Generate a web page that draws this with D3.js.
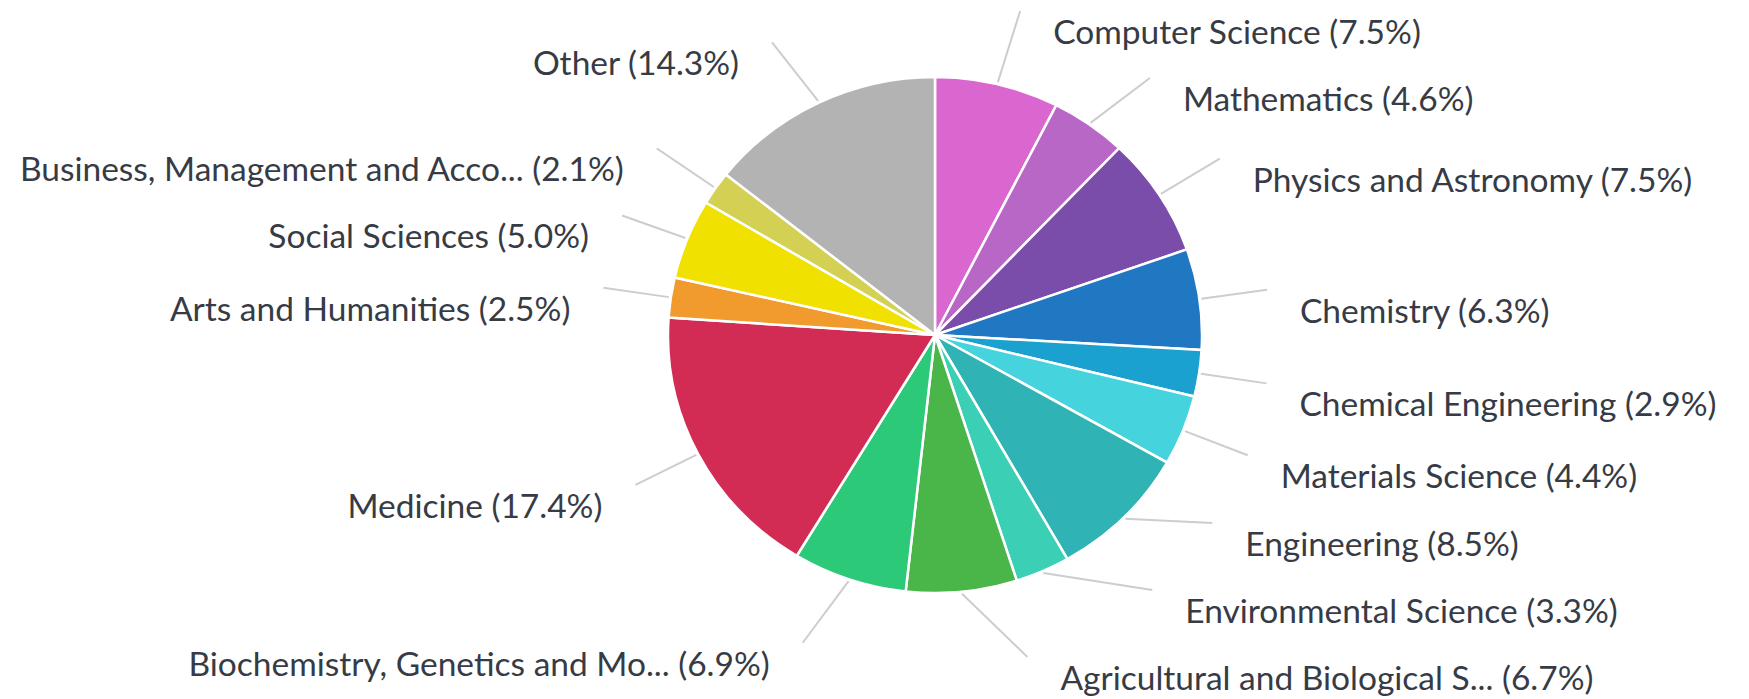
<!DOCTYPE html>
<html>
<head>
<meta charset="utf-8">
<script src="https://cdn.jsdelivr.net/npm/d3@7"></script>
<style>
  html, body { margin: 0; padding: 0; background: #fff; }
  .label { font-family: Lato, "Open Sans", sans-serif; font-size: 33.5px; fill: #363b45; }
</style>
</head>
<body>
<div id="chart"></div>
<script>
// subject areas, clockwise from 12 o'clock
const categories = [
  "Computer Science", "Mathematics", "Physics and Astronomy", "Chemistry",
  "Chemical Engineering", "Materials Science", "Engineering", "Environmental Science",
  "Agricultural and Biological S...", "Biochemistry, Genetics and Mo...", "Medicine",
  "Arts and Humanities", "Social Sciences", "Business, Management and Acco...", "Other"
];
const shares = [7.5, 4.6, 7.5, 6.3, 2.9, 4.4, 8.5, 3.3, 6.7, 6.9, 17.4, 2.5, 5.0, 2.1, 14.3];
const sliceColors = [
  "#da67d0", "#b867c6", "#7a4dab", "#1f78c1", "#1aa1cf", "#45d3dd", "#2fb3b5",
  "#3bcfb5", "#4ab549", "#2cc978", "#d22c55", "#f19a2e", "#f0e100", "#d3d053", "#b3b3b3"
];

var svgWidth = 1749;
var svgHeight = 699;

let cx = 935, cy = 335;
let rx = 267, ry = 258;        // pie is a little wider than tall in the picture
let targetRadius = 325;        // where a label would like to sit
let labelRadius = 335;         // circle the connector ends sit on
let labelGap = 67;             // min vertical distance between labels
let yTop = 11, yBottom = 657;

let svg = d3.select("#chart")
  .append("svg")
  .attr("width", svgWidth)
  .attr("height", svgHeight);

let slices = d3.pie().sort(null).value(d => d)(shares);

let arc = d3.arc().innerRadius(0).outerRadius(ry);

let pieGroup = svg.append("g")
  .attr("transform", `translate(${cx}, ${cy}) scale(${rx / ry}, 1)`);

pieGroup.selectAll("path")
  .data(slices)
  .enter()
  .append("path")
  .attr("d", arc)
  .attr("fill", (d, i) => sliceColors[i])
  .attr("stroke", "#fff")
  .attr("stroke-width", 2.5)
  .attr("vector-effect", "non-scaling-stroke");

// label placement: natural spot on the mid angle, then push apart per side
let labels = slices.map((d, i) => {
  let mid = (d.startAngle + d.endAngle) / 2;
  return {
    i: i,
    mid: mid,
    right: mid < Math.PI,
    target: cy - targetRadius * Math.cos(mid)
  };
});

function distribute(items) {
  items.sort((a, b) => a.target - b.target);
  let groups = items.map(d => ({ members: [d] }));
  let changed = true;
  while (changed) {
    changed = false;
    groups.forEach(g => {
      let n = g.members.length;
      let start = d3.mean(g.members, m => m.target) - (n - 1) * labelGap / 2;
      g.start = Math.max(yTop, Math.min(yBottom - (n - 1) * labelGap, start));
    });
    for (let k = 0; k < groups.length - 1; k++) {
      let a = groups[k], b = groups[k + 1];
      if (a.start + a.members.length * labelGap > b.start) {
        a.members = a.members.concat(b.members);
        groups.splice(k + 1, 1);
        changed = true;
        break;
      }
    }
  }
  groups.forEach(g => g.members.forEach((m, k) => { m.y = g.start + k * labelGap; }));
}

distribute(labels.filter(d => d.right));
distribute(labels.filter(d => !d.right));

labels.forEach(d => {
  let dy = d.y - cy;
  let dx = Math.sqrt(Math.max(0, labelRadius * labelRadius - dy * dy));
  d.x = cx + (d.right ? dx : -dx);
  d.sx = cx + (rx + 2) * Math.sin(d.mid);
  d.sy = cy - (ry + 2) * Math.cos(d.mid);
});

// connectors
svg.append("g")
  .selectAll("line")
  .data(labels)
  .enter()
  .append("line")
  .attr("x1", d => d.sx)
  .attr("y1", d => d.sy)
  .attr("x2", d => d.x)
  .attr("y2", d => d.y)
  .attr("stroke", "#cdcdcd")
  .attr("stroke-width", 2);

// label text
svg.append("g")
  .selectAll("text")
  .data(labels)
  .enter()
  .append("text")
  .attr("class", "label")
  .attr("x", d => d.x + (d.right ? 33 : -33))
  .attr("y", d => d.y + 20)
  .attr("dominant-baseline", "central")
  .attr("text-anchor", d => d.right ? "start" : "end")
  .text(d => `${categories[d.i]} (${shares[d.i].toFixed(1)}%)`);
</script>
</body>
</html>
